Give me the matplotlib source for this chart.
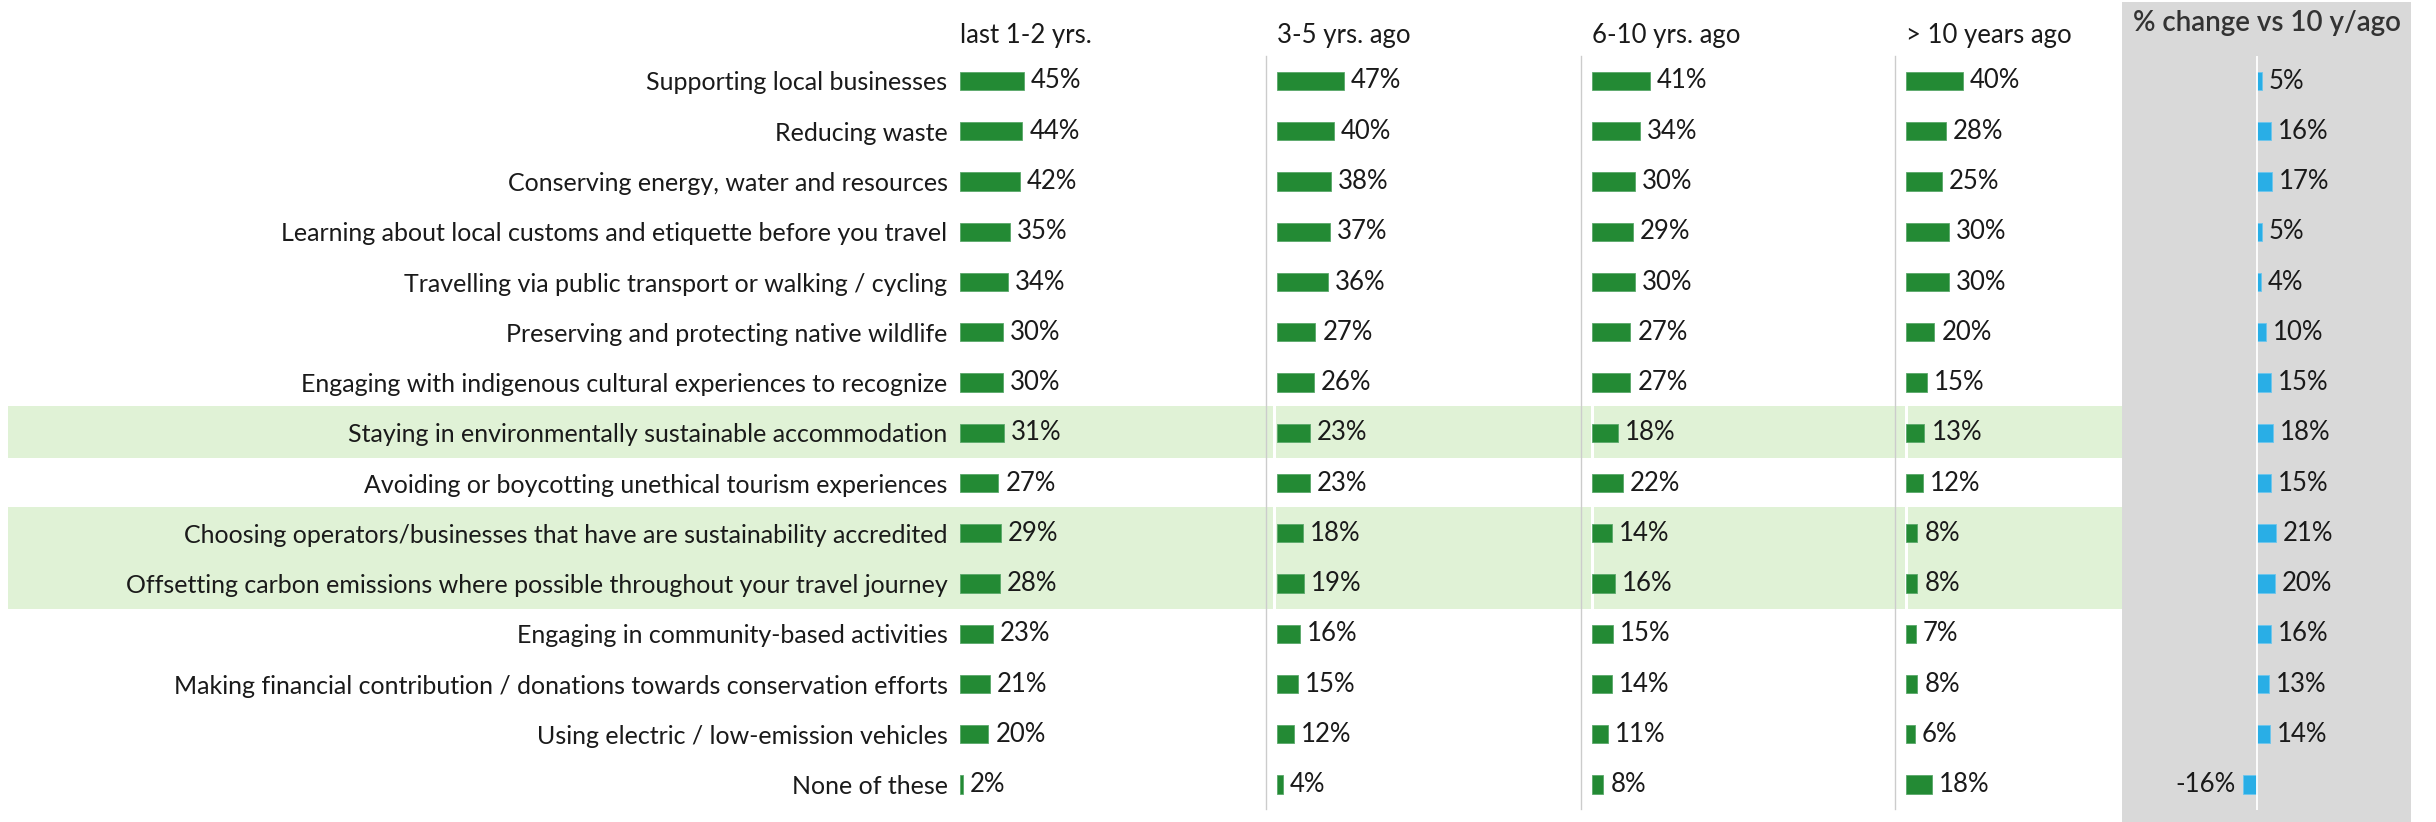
import matplotlib.pyplot as plt
import numpy as np

categories = [
    "Supporting local businesses",
    "Reducing waste",
    "Conserving energy, water and resources",
    "Learning about local customs and etiquette before you travel",
    "Travelling via public transport or walking / cycling",
    "Preserving and protecting native wildlife",
    "Engaging with indigenous cultural experiences to recognize",
    "Staying in environmentally sustainable accommodation",
    "Avoiding or boycotting unethical tourism experiences",
    "Choosing operators/businesses that have are sustainability accredited",
    "Offsetting carbon emissions where possible throughout your travel journey",
    "Engaging in community-based activities",
    "Making financial contribution / donations towards conservation efforts",
    "Using electric / low-emission vehicles",
    "None of these",
]
last_1_2 = [45, 44, 42, 35, 34, 30, 30, 31, 27, 29, 28, 23, 21, 20, 2]
yrs_3_5 = [47, 40, 38, 37, 36, 27, 26, 23, 23, 18, 19, 16, 15, 12, 4]
yrs_6_10 = [41, 34, 30, 29, 30, 27, 27, 18, 22, 14, 16, 15, 14, 11, 8]
over_10 = [40, 28, 25, 30, 30, 20, 15, 13, 12, 8, 8, 7, 8, 6, 18]
change_vs_10 = [5, 16, 17, 5, 4, 10, 15, 18, 15, 21, 20, 16, 13, 14, -16]
period_labels = ["last 1-2 yrs.", "3-5 yrs. ago", "6-10 yrs. ago", "> 10 years ago"]
change_title = "% change vs 10 y/ago"
highlighted = [[7], [9, 10]]

plt.rcParams['font.family'] = ['Lato', 'DejaVu Sans']

W, H = 2436, 822
ROW0, ROWH = 81, 50.25          # pixel centre of first row, row pitch
GREEN_PX = 1.42                 # pixels per % for the green bars
BLUE_PX = 0.9                   # pixels per % for the blue bars
GREEN = '#238a34'
BLUE = '#29aee6'
BAND = '#e0f2d6'
GREY = '#d9d9d9'
TXT = '#1a1a1a'
FS = 18

fig = plt.figure(figsize=(W / 100, H / 100), dpi=100)
n = len(categories)
rows = np.arange(n)


def px_axes(x0, y0, x1, y1):
    ax = fig.add_axes([x0 / W, 1 - y1 / H, (x1 - x0) / W, (y1 - y0) / H])
    ax.set_ylim((y1 - ROW0) / ROWH, (y0 - ROW0) / ROWH)
    return ax


def to_row(py):
    return (py - ROW0) / ROWH


# background with highlight bands
bg = px_axes(0, 0, W, H)
bg.set_xlim(0, W)
bg.axis('off')
for grp in highlighted:
    top, bot = grp[0] - 0.53, grp[-1] + 0.5
    for xa, xb in [(8, 1273), (1276, 1591), (1594, 1905), (1908, 2122)]:
        bg.fill_between([xa, xb], top, bot, color=BAND, lw=0)

# four period panels
edges = [949, 1266, 1581, 1895, 2122]
series = [last_1_2, yrs_3_5, yrs_6_10, over_10]
for k, vals in enumerate(series):
    x0, x1 = edges[k], edges[k + 1]
    ax = px_axes(x0, 56, x1, 809)
    ax.set_facecolor('none')
    ax.set_xlim(-11 / GREEN_PX, (x1 - x0 - 11) / GREEN_PX)
    bars = ax.barh(rows, vals, height=0.36, color=GREEN, edgecolor='#5aa86a', lw=0.6)
    ax.bar_label(bars, labels=[f"{v}%" for v in vals], padding=5, fontsize=FS + 0.5, color=TXT)
    for s in ['top', 'right', 'bottom']:
        ax.spines[s].set_visible(False)
    ax.spines['left'].set_color('#cccccc')
    ax.spines['left'].set_linewidth(1.0)
    ax.spines['left'].set_visible(k > 0)
    ax.set_xticks([])
    if k == 0:
        ax.set_yticks(rows, categories, fontsize=FS, color=TXT)
        ax.tick_params(axis='y', length=0, pad=1)
    else:
        ax.set_yticks([])
    ax.text(0, to_row(36), period_labels[k], ha='left', va='center', fontsize=FS + 0.5, color=TXT)

# % change panel
ax5 = px_axes(2122, 2, 2411, 822)
ax5.set_facecolor(GREY)
ax5.set_xlim(-(2257 - 2122) / BLUE_PX, (2411 - 2257) / BLUE_PX)
for s in ax5.spines.values():
    s.set_visible(False)
ax5.set_xticks([])
ax5.set_yticks([])
ax5.vlines(0, -0.5, n - 0.5, color='white', lw=1.3)
bars = ax5.barh(rows, change_vs_10, height=0.36, color=BLUE, edgecolor='#6cc6ee', lw=0.6)
ax5.bar_label(bars, labels=[f"{v}%" for v in change_vs_10], padding=5, fontsize=FS + 0.5, color=TXT)
ax5.text(0.502, to_row(23), change_title, transform=ax5.get_yaxis_transform(),
         ha='center', va='center', fontsize=20, fontweight='semibold', color='#333333')

fig.savefig('out.png', dpi=100)
